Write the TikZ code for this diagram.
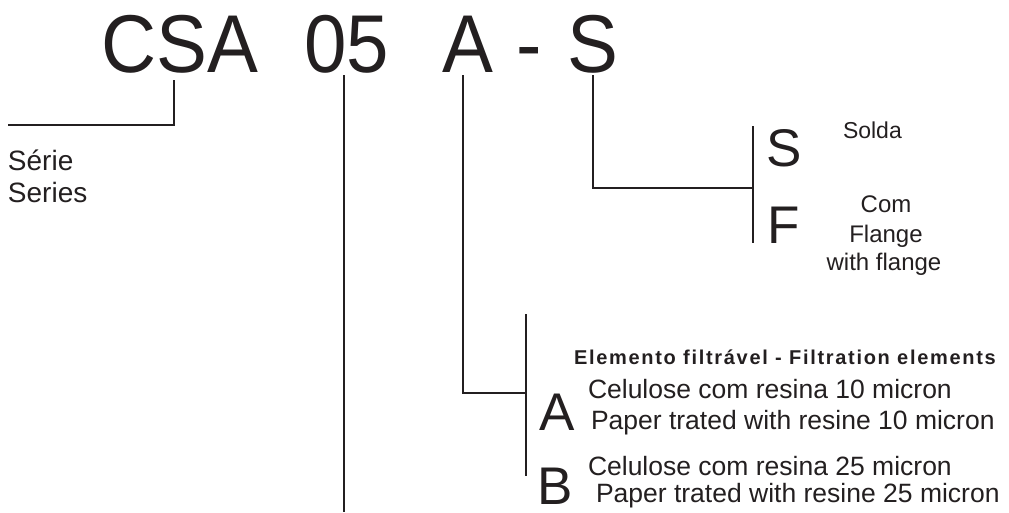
\documentclass[tikz,border=0pt]{standalone}
\usepackage{fontspec}
\setmainfont{Liberation Sans}
\newfontfamily\headfont[LetterSpace=8.5]{Liberation Sans}
\definecolor{ink}{RGB}{35,31,32}
\tikzset{
  lbl/.style={inner sep=0pt, outer sep=0pt, text=ink},
  conn/.style={draw=ink, line width=1.3pt},
  titlefont/.style={font=\fontsize{82}{82}\selectfont},
  codefont/.style={font=\fontsize{53}{53}\selectfont},
  descfont/.style={font=\fontsize{26.5}{26.5}\selectfont},
}
\begin{document}
\begin{tikzpicture}[x=1pt,y=-1pt]
\useasboundingbox (0,0) rectangle (1009,512);
% title
\node[lbl,titlefont,anchor=base] (tcsa) at (180,72) {\scalebox{0.93}[1]{CSA}};
\node[lbl,titlefont,anchor=base] (t05) at (347,72) {\scalebox{0.93}[1]{05}};
\node[lbl,titlefont,anchor=base] (ta) at (467.5,72) {\scalebox{0.93}[1]{A}};
\node[lbl,titlefont,anchor=base] (tdash) at (529.5,72) {\scalebox{0.93}[1]{-}};
\node[lbl,titlefont,anchor=base] (ts) at (593,72) {\scalebox{0.93}[1]{S}};
% series
\node[lbl,font=\fontsize{28}{28}\selectfont,anchor=base west] (serie) at (8,170) {Série};
\node[lbl,font=\fontsize{28}{28}\selectfont,anchor=base west] (series) at (8,202) {Series};
\coordinate (c1top) at (174,80);
\coordinate (c1corner) at (174,125);
\coordinate (c1end) at (8,125);
\draw[conn] (c1top) -- (c1corner) -- (c1end);
% size line
\coordinate (c2top) at (344,75);
\coordinate (c2end) at (344,512);
\draw[conn] (c2top) -- (c2end);
% element line
\coordinate (c3top) at (463,75);
\coordinate (c3corner) at (463,393);
\coordinate (c3end) at (526,393);
\coordinate (b3top) at (526,314);
\coordinate (b3bot) at (526,476);
\draw[conn] (c3top) -- (c3corner) -- (c3end);
\draw[conn] (b3top) -- (b3bot);
% connection line
\coordinate (c4top) at (593,75);
\coordinate (c4corner) at (593,188);
\coordinate (c4end) at (753,188);
\coordinate (b4top) at (753,126);
\coordinate (b4bot) at (753,243);
\draw[conn] (c4top) -- (c4corner) -- (c4end);
\draw[conn] (b4top) -- (b4bot);
% S / F options
\node[lbl,codefont,anchor=base west] (optS) at (766,166) {S};
\node[lbl,codefont,anchor=base west] (optF) at (767,243) {F};
\node[lbl,font=\fontsize{23}{23}\selectfont,anchor=base west] (solda) at (843,138) {Solda};
\node[lbl,font=\fontsize{24}{24}\selectfont,anchor=base] (com) at (886,212) {Com};
\node[lbl,font=\fontsize{24}{24}\selectfont,anchor=base] (flange) at (886,242) {Flange};
\node[lbl,font=\fontsize{24}{24}\selectfont,anchor=base] (withfl) at (884,270) {with flange};
% A / B options
\node[lbl,font=\headfont\bfseries\fontsize{20}{20}\selectfont,anchor=base west] (head) at (574,364) {Elemento filtrável - Filtration elements};
\node[lbl,codefont,anchor=base west] (optA) at (539,430) {A};
\node[lbl,codefont,anchor=base west] (optB) at (537,504) {B};
\node[lbl,descfont,anchor=base west] (a1) at (588,398) {Celulose com resina 10 micron};
\node[lbl,descfont,anchor=base west] (a2) at (591,429) {Paper trated with resine 10 micron};
\node[lbl,descfont,anchor=base west] (b1) at (588,475) {Celulose com resina 25 micron};
\node[lbl,descfont,anchor=base west] (b2) at (596,502) {Paper trated with resine 25 micron};
\end{tikzpicture}
\end{document}
